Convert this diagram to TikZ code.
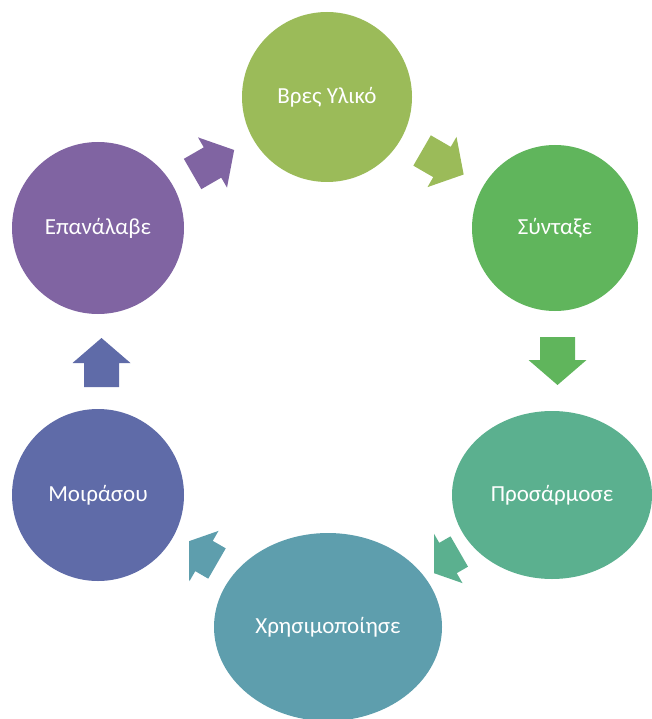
\documentclass[tikz,border=0pt]{standalone}
\usepackage{fontspec}
\setmainfont{Carlito}
\usetikzlibrary{shapes.geometric}
\definecolor{cA}{HTML}{9BBB59}
\definecolor{cB}{HTML}{60B55C}
\definecolor{cC}{HTML}{5BB08F}
\definecolor{cD}{HTML}{5E9EAD}
\definecolor{cE}{HTML}{5F6BA8}
\definecolor{cF}{HTML}{8064A2}
% block arrow: colour, head-base x, y, angle, body length
\newcommand\blockarr[5]{%
  \begin{scope}[shift={(#2,#3)},rotate=#4]
    \fill[#1] (-#5,-17.5) -- (0,-17.5) -- (0,-29) -- (25,0) -- (0,29) -- (0,17.5) -- (-#5,17.5) -- cycle;
  \end{scope}}
\begin{document}
\begin{tikzpicture}[x=1pt,y=-1pt,
  blob/.style={ellipse, inner sep=0pt, text=white, font=\fontsize{23}{27}\selectfont}]
\useasboundingbox (0,0) rectangle (652,719);
\clip (0,0) rectangle (652,719);
\node[blob, fill=cA, minimum width=170, minimum height=170] (n1) at (327,97) {Βρες Υλικό};
\node[blob, fill=cB, minimum width=166, minimum height=166] (n2) at (555,228) {Σύνταξε};
\node[blob, fill=cC, minimum width=200, minimum height=168] (n3) at (552,495) {Προσάρμοσε};
\node[blob, fill=cD, minimum width=228, minimum height=188] (n4) at (328,627) {Χρησιμοποίησε};
\node[blob, fill=cE, minimum width=172, minimum height=172] (n5) at (98,495) {Μοιράσου};
\node[blob, fill=cF, minimum width=172, minimum height=172] (n6) at (98,228) {Επανάλαβε};
% arrows
\blockarr{cF}{212.5}{162.5}{30}{23}
\blockarr{cA}{442}{162}{-30}{23}
\blockarr{cB}{557.5}{360}{-90}{23}
\begin{scope}
  \clip (434,500) rectangle (500,600);
  \blockarr{cC}{448}{558}{210}{13}
\end{scope}
\begin{scope}
  \clip (189,500) rectangle (260,600);
  \blockarr{cD}{204}{556}{150}{15}
\end{scope}
\blockarr{cE}{101.5}{363}{90}{24}
\end{tikzpicture}
\end{document}
